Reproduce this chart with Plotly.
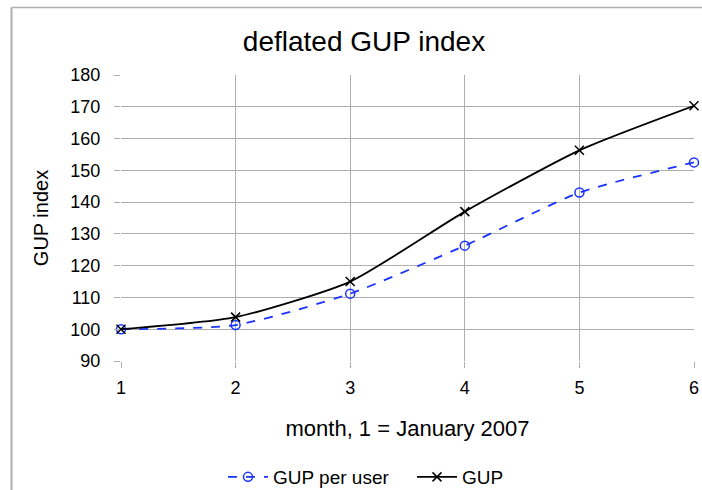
import plotly.graph_objects as go

months = [1, 2, 3, 4, 5, 6]
gup_per_user = [100.0, 101.3, 111.2, 126.3, 143.0, 152.5]
gup = [100.0, 103.8, 115.0, 137.0, 156.3, 170.3]
y_ticks = [90, 100, 110, 120, 130, 140, 150, 160, 170, 180]

W, H = 702, 490
L, R, T, B = 121, 8, 75, 129
pw, ph = W - L - R, H - T - B

def px_x(px):
    return (px - L) / pw

def px_y(py):
    return (H - B - py) / ph

fig = go.Figure()
fig.add_trace(go.Scatter(
    x=months, y=gup_per_user, name="GUP per user", mode="lines+markers",
    line=dict(color="#1a33ff", width=1.8, dash="dash", shape="spline", smoothing=0.6),
    marker=dict(symbol="circle-open", size=9, color="#1a33ff", line=dict(width=1.5)),
    cliponaxis=False,
))
fig.add_trace(go.Scatter(
    x=months, y=gup, name="GUP", mode="lines+markers",
    line=dict(color="black", width=1.8, shape="spline", smoothing=0.6),
    marker=dict(symbol="x-thin", size=9, color="black", line=dict(width=1.5, color="black")),
    cliponaxis=False,
))

grid = "#aeaeae"
fig.update_layout(
    width=W, height=H,
    margin=dict(l=L, r=R, t=T, b=B, autoexpand=False),
    paper_bgcolor="white", plot_bgcolor="white",
    font=dict(family="Liberation Sans, Arial, sans-serif", color="black", size=18),
    title=dict(text="deflated GUP index", x=364 / W, xanchor="center",
               y=1 - 41 / H, yanchor="middle", yref="container",
               font=dict(size=28)),
    showlegend=True,
    legend=dict(orientation="h", x=px_x(223), xanchor="left", y=px_y(477), yanchor="middle",
                font=dict(size=19), bgcolor="rgba(0,0,0,0)",
                itemwidth=40, entrywidth=134, entrywidthmode="pixels"),
    xaxis=dict(range=[1, 6], tickvals=months, showgrid=True, gridcolor=grid, gridwidth=1.3,
               ticks="outside", ticklen=6, tickcolor=grid, tickwidth=1.3,
               showline=False, zeroline=False, ticklabelstandoff=4,
               title=dict(text="month, 1 = January 2007", font=dict(size=22), standoff=24)),
    yaxis=dict(range=[90, 180], tickvals=y_ticks, showgrid=True, gridcolor=grid, gridwidth=1.3,
               ticks="outside", ticklen=6, tickcolor=grid, tickwidth=1.3,
               showline=False, zeroline=False, ticklabelstandoff=10,
               title=dict(text="GUP index", font=dict(size=20), standoff=16)),
    shapes=[
        dict(type="line", xref="paper", yref="paper", x0=px_x(11.5), x1=px_x(11.5),
             y0=px_y(7.5), y1=px_y(500), line=dict(color="#b0b0b0", width=2)),
        dict(type="line", xref="paper", yref="paper", x0=px_x(11.5), x1=px_x(720),
             y0=px_y(7.5), y1=px_y(7.5), line=dict(color="#b0b0b0", width=1.5)),
    ],
)

fig.write_html(
    "out.html",
    config={"displayModeBar": False},
    post_script="document.body.style.margin='0';"
                "document.documentElement.style.overflow='hidden';"
                "document.body.style.overflow='hidden';",
)
